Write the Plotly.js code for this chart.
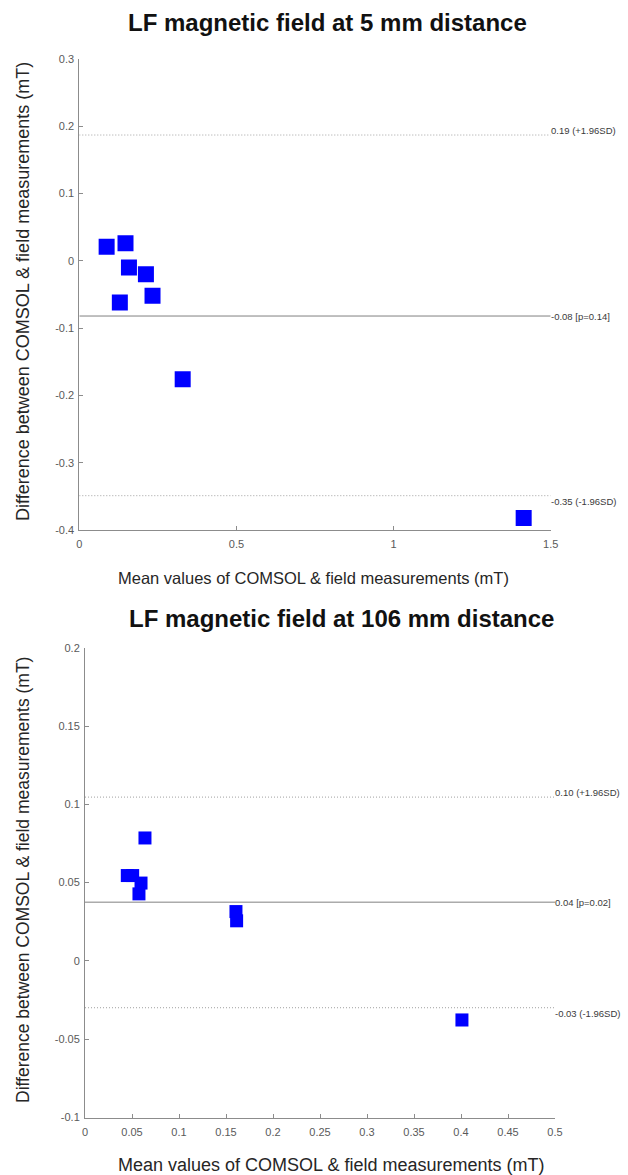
<!DOCTYPE html>
<html>
<head>
<meta charset="utf-8">
<script src="https://cdn.plot.ly/plotly-3.0.1.min.js"></script>
<style>html,body{margin:0;padding:0;background:#fff;}#chart{width:628px;height:1175px;}</style>
</head>
<body>
<div id="chart"></div>
<script>
// ---- Text ----
const titles = ["LF magnetic field at 5 mm distance", "LF magnetic field at 106 mm distance"];
const xTitle = "Mean values of COMSOL & field measurements (mT)";
const yTitle = "Difference between COMSOL & field measurements (mT)";

// ---- Data: top panel (5 mm) ----
const meanTop = [0.087, 0.147, 0.158, 0.212, 0.233, 0.129, 0.329, 1.414];
const diffTop = [0.021, 0.026, -0.010, -0.020, -0.052, -0.062, -0.176, -0.382];
const limitsTop = [0.187, -0.082, -0.349];
const limitLabelsTop = ["0.19 (+1.96SD)", "-0.08 [p=0.14]", "-0.35 (-1.96SD)"];
const xTicksTop = [0, 0.5, 1, 1.5];
const xTickTextTop = ["0", "0.5", "1", "1.5"];
const yTicksTop = [-0.4, -0.3, -0.2, -0.1, 0, 0.1, 0.2, 0.3];
const yTickTextTop = ["-0.4", "-0.3", "-0.2", "-0.1", "0", "0.1", "0.2", "0.3"];

// ---- Data: bottom panel (106 mm) ----
const meanBot = [0.0638, 0.045, 0.0507, 0.0596, 0.0574, 0.1606, 0.1613, 0.401];
const diffBot = [0.0785, 0.0545, 0.0545, 0.0497, 0.0428, 0.0315, 0.0256, -0.0377];
const limitsBot = [0.1046, 0.0375, -0.0299];
const limitLabelsBot = ["0.10 (+1.96SD)", "0.04 [p=0.02]", "-0.03 (-1.96SD)"];
const xTicksBot = [0, 0.05, 0.1, 0.15, 0.2, 0.25, 0.3, 0.35, 0.4, 0.45, 0.5];
const xTickTextBot = ["0", "0.05", "0.1", "0.15", "0.2", "0.25", "0.3", "0.35", "0.4", "0.45", "0.5"];
const yTicksBot = [-0.1, -0.05, 0, 0.05, 0.1, 0.15, 0.2];
const yTickTextBot = ["-0.1", "-0.05", "0", "0.05", "0.1", "0.15", "0.2"];

const W = 628, H = 1175;
const FONT = "Arial, 'Liberation Sans', Helvetica, sans-serif";
const axisGray = "#8c8c8c";
const tickFont = {family: FONT, size: 11, color: "#5a5a5a"};

const panels = [
  {xa: "x", ya: "y", xr: [0, 1.5], yr: [-0.4, 0.3], mx: meanTop, dy: diffTop, lim: limitsTop, lab: limitLabelsTop,
   xt: xTicksTop, xtt: xTickTextTop, yt: yTicksTop, ytt: yTickTextTop, msize: 16,
   px: [79.3, 550.7], py: [59, 530],
   titlePos: [327, 22], titleSize: 24, xtPos: [313, 578], xtSize: 16.5, ytPos: [23, 292], ytSize: 18},
  {xa: "x2", ya: "y2", xr: [0, 0.5], yr: [-0.1, 0.2], mx: meanBot, dy: diffBot, lim: limitsBot, lab: limitLabelsBot,
   xt: xTicksBot, xtt: xTickTextBot, yt: yTicksBot, ytt: yTickTextBot, msize: 13,
   px: [85, 555], py: [647.7, 1117.5],
   titlePos: [341, 618], titleSize: 24, xtPos: [331, 1165], xtSize: 18, ytPos: [23, 880], ytSize: 17.5}
];

const traces = [];
const annotations = [];
const layout = {
  width: W, height: H,
  margin: {l: 0, r: 0, t: 0, b: 0},
  paper_bgcolor: "#ffffff", plot_bgcolor: "#ffffff",
  showlegend: false,
  font: {family: FONT}
};

panels.forEach((p, i) => {
  const sfx = i === 0 ? "" : "2";
  const lineStyles = [{dash: "1px,2px", color: "#a0a0a0"}, {dash: "solid", color: "#808080"}, {dash: "1px,2px", color: "#a0a0a0"}];
  p.lim.forEach((v, k) => {
    traces.push({x: [p.xr[0], p.xr[1]], y: [v, v], xaxis: p.xa, yaxis: p.ya, mode: "lines",
      line: {color: lineStyles[k].color, width: 1, dash: lineStyles[k].dash}, hoverinfo: "skip"});
    annotations.push({x: p.xr[1], y: v, xref: p.xa, yref: p.ya, text: p.lab[k], showarrow: false,
      xanchor: "left", yanchor: "middle", xshift: -2, yshift: k === 0 ? 5 : (k === 2 ? -6 : 0),
      font: {family: FONT, size: 9.5, color: "#3a3a3a"}});
  });
  traces.push({x: p.mx, y: p.dy, xaxis: p.xa, yaxis: p.ya, mode: "markers",
    marker: {symbol: "square", size: p.msize, color: "#0000ff", line: {width: 0}}});

  const xd = [p.px[0] / W, p.px[1] / W];
  const yd = [1 - p.py[1] / H, 1 - p.py[0] / H];
  layout["xaxis" + sfx] = {domain: xd, range: p.xr, anchor: p.ya, showline: true, linecolor: axisGray, linewidth: 1,
    ticks: "inside", ticklen: 4, tickcolor: axisGray, tickvals: p.xt, ticktext: p.xtt, tickfont: tickFont,
    ticklabelstandoff: 4, showgrid: false, zeroline: false, fixedrange: true};
  layout["yaxis" + sfx] = {domain: yd, range: p.yr, anchor: p.xa, showline: true, linecolor: axisGray, linewidth: 1,
    ticks: "inside", ticklen: 4, tickcolor: axisGray, tickvals: p.yt, ticktext: p.ytt, tickfont: tickFont,
    ticklabelstandoff: 2, showgrid: false, zeroline: false, fixedrange: true};

  // panel title
  annotations.push({x: p.titlePos[0] / W, y: 1 - p.titlePos[1] / H, xref: "paper", yref: "paper",
    text: "<b>" + titles[i] + "</b>", showarrow: false, xanchor: "center", yanchor: "middle",
    font: {family: FONT, size: p.titleSize, color: "#111111"}});
  // x-axis title
  annotations.push({x: p.xtPos[0] / W, y: 1 - p.xtPos[1] / H, xref: "paper", yref: "paper",
    text: xTitle, showarrow: false, xanchor: "center", yanchor: "middle",
    font: {family: FONT, size: p.xtSize, color: "#262626"}});
  // y-axis title
  annotations.push({x: p.ytPos[0] / W, y: 1 - p.ytPos[1] / H, xref: "paper", yref: "paper",
    text: yTitle, showarrow: false, textangle: -90, xanchor: "center", yanchor: "middle",
    font: {family: FONT, size: p.ytSize, color: "#262626"}});
});

layout.annotations = annotations;
Plotly.newPlot("chart", traces, layout, {displayModeBar: false, staticPlot: true});
</script>
</body>
</html>
